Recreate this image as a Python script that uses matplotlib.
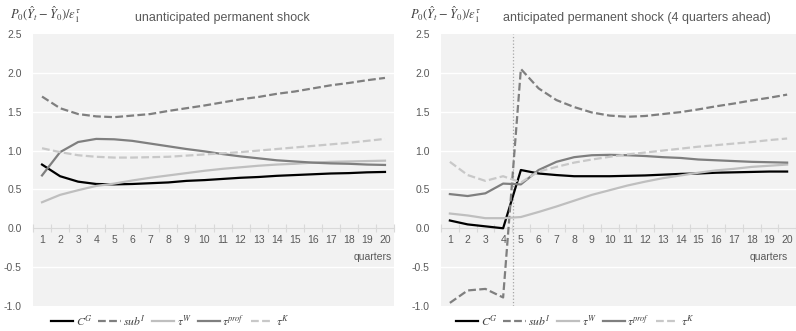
import numpy as np
import matplotlib
matplotlib.use('Agg')
import matplotlib.pyplot as plt

plt.rcParams['font.family'] = ['Liberation Sans', 'DejaVu Sans']
plt.rcParams['mathtext.fontset'] = 'stix'

quarters = list(range(1, 21))

# unanticipated permanent shock
cg_u = [0.82, 0.67, 0.60, 0.57, 0.565, 0.57, 0.58, 0.59, 0.61, 0.62,
        0.635, 0.65, 0.66, 0.675, 0.685, 0.695, 0.705, 0.71, 0.72, 0.725]
subi_u = [1.695, 1.545, 1.47, 1.44, 1.43, 1.45, 1.47, 1.51, 1.545, 1.58,
          1.62, 1.66, 1.69, 1.73, 1.76, 1.80, 1.84, 1.87, 1.905, 1.935]
tauw_u = [0.335, 0.43, 0.49, 0.545, 0.575, 0.615, 0.65, 0.68, 0.71, 0.74,
          0.765, 0.785, 0.805, 0.82, 0.83, 0.845, 0.855, 0.86, 0.865, 0.87]
tauprof_u = [0.68, 0.98, 1.11, 1.15, 1.145, 1.125, 1.09, 1.055, 1.02, 0.99,
             0.955, 0.925, 0.90, 0.875, 0.86, 0.845, 0.835, 0.83, 0.82, 0.815]
tauk_u = [1.03, 0.98, 0.94, 0.92, 0.91, 0.91, 0.915, 0.92, 0.935, 0.95,
          0.965, 0.98, 1.0, 1.02, 1.04, 1.06, 1.08, 1.10, 1.125, 1.15]

# anticipated permanent shock (4 quarters ahead)
cg_a = [0.10, 0.05, 0.025, 0.0, 0.75, 0.705, 0.685, 0.67, 0.67, 0.67,
        0.675, 0.68, 0.69, 0.70, 0.705, 0.715, 0.72, 0.725, 0.73, 0.73]
subi_a = [-0.96, -0.80, -0.78, -0.89, 2.05, 1.80, 1.65, 1.56, 1.49, 1.45,
          1.435, 1.445, 1.47, 1.495, 1.53, 1.57, 1.605, 1.645, 1.68, 1.72]
tauw_a = [0.19, 0.165, 0.13, 0.13, 0.145, 0.21, 0.28, 0.355, 0.43, 0.49,
          0.55, 0.60, 0.645, 0.68, 0.715, 0.745, 0.765, 0.79, 0.805, 0.82]
tauprof_a = [0.44, 0.415, 0.45, 0.575, 0.565, 0.75, 0.855, 0.915, 0.94, 0.945,
             0.94, 0.93, 0.915, 0.905, 0.885, 0.875, 0.865, 0.855, 0.85, 0.845]
tauk_a = [0.855, 0.685, 0.61, 0.67, 0.59, 0.73, 0.79, 0.845, 0.885, 0.92,
          0.95, 0.975, 1.0, 1.025, 1.05, 1.07, 1.09, 1.11, 1.135, 1.155]

labels = [r'$C^G$', r'$sub^I$', r'$\tau^W$', r'$\tau^{prof}$', r'$\tau^K$']
colors = ['#000000', '#7f7f7f', '#bfbfbf', '#7f7f7f', '#c8c8c8']
styles = ['-', (0, (3.5, 1.5)), '-', '-', (0, (3.5, 1.5))]

yticks = [-1.0, -0.5, 0.0, 0.5, 1.0, 1.5, 2.0, 2.5]
ylabel = r'$P_0(\hat{Y}_t-\hat{Y}_0)/\epsilon_1^\tau$'


def draw_panel(ax, series, xmax):
    ax.set_facecolor('#f2f2f2')
    for y, lab, c, ls in zip(series, labels, colors, styles):
        ax.plot(quarters, y, color=c, linestyle=ls, linewidth=1.6, label=lab,
                clip_on=False, zorder=3)
    ax.set_xlim(0.5, xmax)
    ax.set_ylim(-1.0, 2.5)
    ax.set_yticks(yticks)
    ax.set_yticklabels(['%.1f' % v for v in yticks])
    for v in [-0.5, 0.5, 1.0, 1.5, 2.0]:
        ax.axhline(v, color='white', linewidth=1.0, zorder=1)
    for s in ['top', 'right', 'left']:
        ax.spines[s].set_visible(False)
    ax.spines['bottom'].set_position(('data', 0))
    ax.spines['bottom'].set_color('#d9d9d9')
    ax.spines['bottom'].set_zorder(2)
    ax.set_xticks(quarters)
    ax.set_xticks(np.arange(0.5, 21, 1.0), minor=True)
    ax.tick_params(axis='x', which='major', length=0, pad=5,
                   labelsize=7.5, labelcolor='#595959')
    ax.tick_params(axis='x', which='minor', length=6, direction='inout',
                   color='#d9d9d9', width=0.8)
    ax.tick_params(axis='y', length=0, pad=8, labelsize=7.5, labelcolor='#595959')
    ax.text(xmax - 0.1, -0.37, 'quarters', ha='right', va='center',
            fontsize=7.5, color='#595959')
    handles, labs = ax.get_legend_handles_labels()
    return handles, labs


fig = plt.figure(figsize=(7.96, 3.31), dpi=100)
ax1 = fig.add_axes([33 / 796, 1 - 306 / 331, 361 / 796, 272 / 331])
ax2 = fig.add_axes([441 / 796, 1 - 306 / 331, 355 / 796, 272 / 331])

h, l = draw_panel(ax1, [cg_u, subi_u, tauw_u, tauprof_u, tauk_u], 20.5)
draw_panel(ax2, [cg_a, subi_a, tauw_a, tauprof_a, tauk_a], 20.17)
ax2.axvline(4.55, color='#a6a6a6', linestyle=':', linewidth=0.9, zorder=2)

fig.text(10 / 796, 1 - 15 / 331, ylabel, fontsize=9, color='#404040',
         ha='left', va='center')
fig.text(222 / 796, 1 - 18 / 331, 'unanticipated permanent shock',
         fontsize=9, color='#595959', ha='center', va='center')
fig.text(410 / 796, 1 - 15 / 331, ylabel, fontsize=9, color='#404040',
         ha='left', va='center')
fig.text(637 / 796, 1 - 18 / 331, 'anticipated permanent shock (4 quarters ahead)',
         fontsize=9, color='#595959', ha='center', va='center')

for cx in [170 / 796, 575 / 796]:
    fig.legend(h, l, loc='center', bbox_to_anchor=(cx, 1 - 321 / 331), ncol=5,
               frameon=False, fontsize=8.5, handlelength=1.9, handletextpad=0.2,
               columnspacing=0.5, labelcolor='#404040')

fig.savefig('out.png', dpi=100)
